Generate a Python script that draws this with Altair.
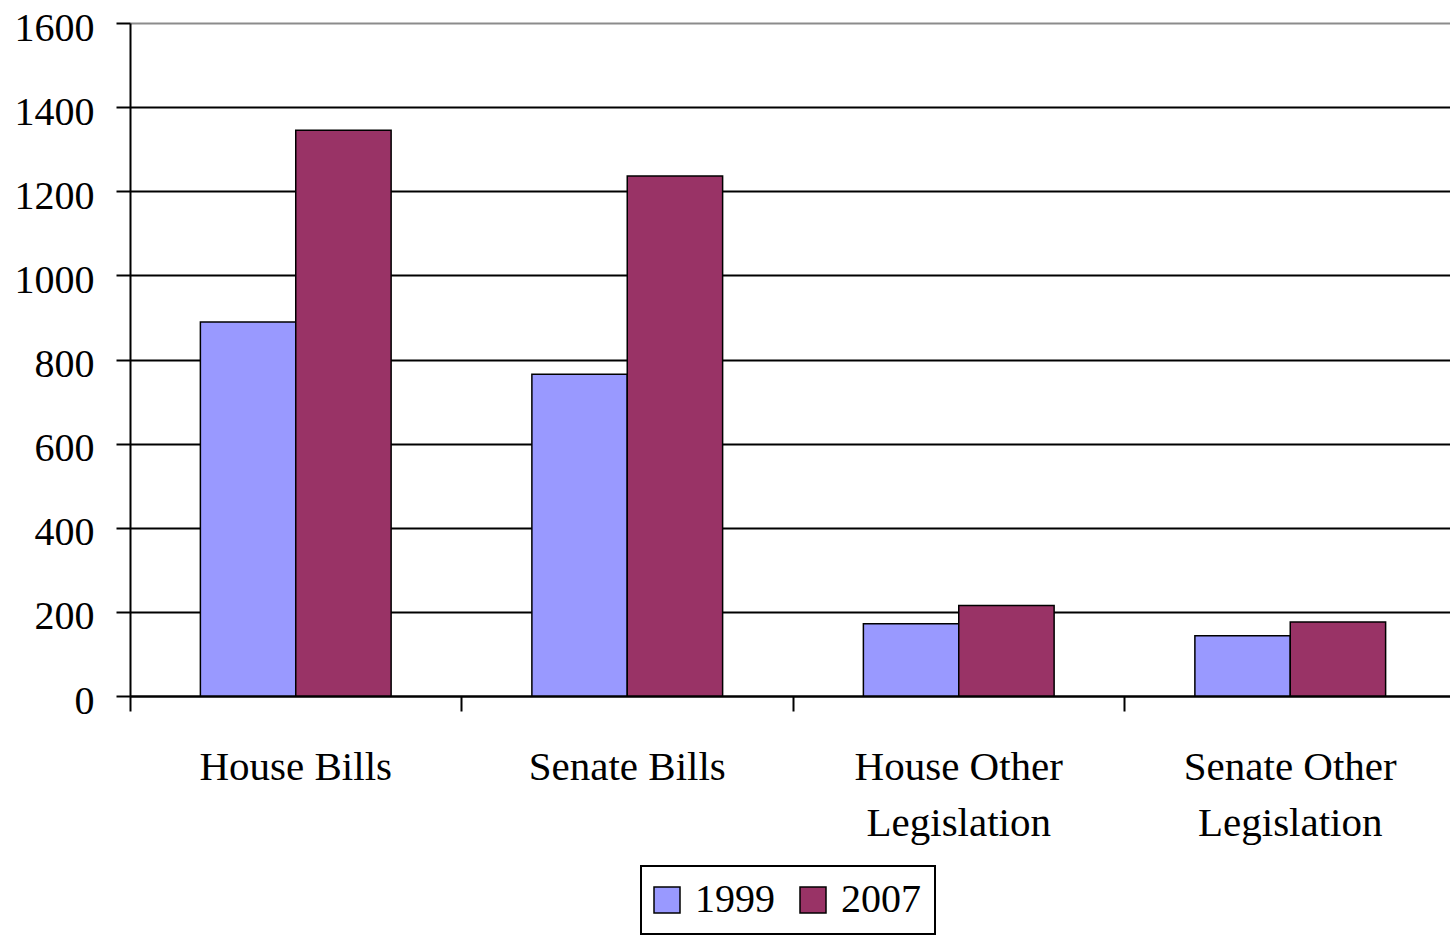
import altair as alt
import pandas as pd

categories = ["House Bills", "Senate Bills", "House Other Legislation", "Senate Other Legislation"]
years = ["1999", "2007"]
values_1999 = [889, 765, 172, 143]
values_2007 = [1345, 1236, 215, 176]
y_ticks = [0, 200, 400, 600, 800, 1000, 1200, 1400, 1600]
colors = ["#9999FF", "#993366"]

rows = []
for c, a, b in zip(categories, values_1999, values_2007):
    rows.append({"category": c, "year": "1999", "value": a})
    rows.append({"category": c, "year": "2007", "value": b})
df = pd.DataFrame(rows)

FONT = "Liberation Serif"

chart = alt.Chart(df).mark_bar(stroke="black", strokeWidth=1.5).encode(
    x=alt.X(
        "category:N",
        sort=categories,
        title=None,
        scale=alt.Scale(paddingInner=0, paddingOuter=0, range=[0, 1326]),
        axis=alt.Axis(
            bandPosition=0,
            labelAngle=0,
            labelFont=FONT,
            labelFontSize=41,
            labelColor="black",
            labelLineHeight=56,
            labelPadding=36,
            labelLimit=0,
            labelExpr="indexof(datum.label, ' Legislation') > 0 ? [replace(datum.label, ' Legislation', ''), 'Legislation'] : datum.label",
            domainColor="black",
            domainWidth=2,
            tickColor="black",
            tickWidth=2,
            tickSize=15,
            grid=False,
        ),
    ),
    xOffset=alt.XOffset("year:N", sort=years, scale=alt.Scale(paddingInner=0, paddingOuter=0.738)),
    y=alt.Y(
        "value:Q",
        title=None,
        scale=alt.Scale(domain=[0, 1600], nice=False),
        axis=alt.Axis(
            values=y_ticks,
            format="d",
            labelFont=FONT,
            labelFontSize=40,
            labelColor="black",
            labelPadding=22,
            labelOffset=5,
            domainColor="black",
            domainWidth=2,
            tickColor="black",
            tickWidth=2,
            tickSize=14,
            grid=True,
            gridColor={"condition": {"test": "datum.value == 1600", "value": "#8c8c8c"}, "value": "black"},
            gridWidth=2,
        ),
    ),
    fill=alt.Fill(
        "year:N",
        sort=years,
        scale=alt.Scale(domain=years, range=colors),
        legend=alt.Legend(
            title=None,
            orient="none",
            legendX=511,
            legendY=843,
            direction="horizontal",
            symbolType="square",
            symbolSize=676,
            symbolStrokeColor="black",
            symbolStrokeWidth=1.5,
            symbolOpacity=1,
            symbolOffset=-8,
            labelFont=FONT,
            labelFontSize=40,
            labelColor="black",
            labelOffset=8,
            columnPadding=22,
            padding=14,
            strokeColor="black",
        ),
    ),
).properties(
    width=1320,
    height=673,
    autosize=alt.AutoSizeParams(type="none"),
    padding={"left": 130, "top": 23, "right": 0, "bottom": 239},
).configure_view(stroke=None).configure_legend(strokeWidth=2)

chart.save("out.html", embed_options={"renderer": "svg", "actions": False})
